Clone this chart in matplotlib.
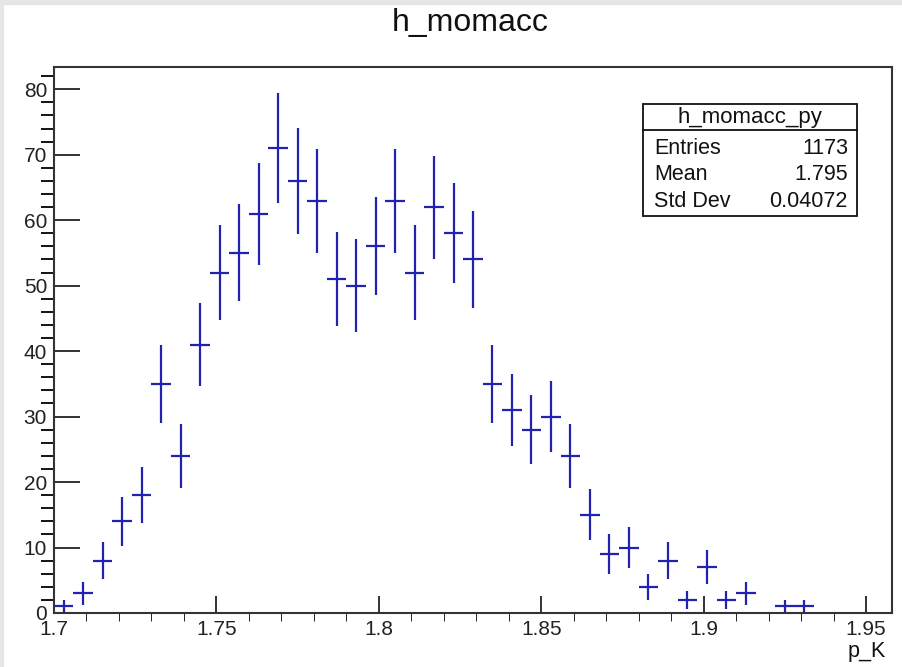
import numpy as np
import matplotlib
matplotlib.use("Agg")
import matplotlib.pyplot as plt
from matplotlib.ticker import MultipleLocator
from matplotlib.patches import Rectangle
from matplotlib.lines import Line2D

plt.rcParams['font.family'] = ['Liberation Sans', 'DejaVu Sans']

# Histogram data
title = "h_momacc"
xlabel = "p_K"
x_min = 1.7
bin_width = 0.006
n_bins = 43
counts = [1, 3, 8, 14, 18, 35, 24, 41, 52, 55, 61, 71, 66, 63, 51, 50, 56, 63,
          52, 62, 58, 54, 35, 31, 28, 30, 24, 15, 9, 10, 4, 8, 2, 7, 2, 3, 0, 1, 1,
          0, 0, 0, 0]
stats_name = "h_momacc_py"
stats_labels = ["Entries", "Mean", "Std Dev"]
stats_values = ["1173", "1.795", "0.04072"]

counts = np.array(counts, dtype=float)
centers = x_min + bin_width * (np.arange(n_bins) + 0.5)
x_max = x_min + bin_width * n_bins
mask = counts > 0

W, H = 902, 667
fig = plt.figure(figsize=(W / 100, H / 100), dpi=100)
fig.patch.set_facecolor('white')

# light gray canvas border (left and top only)
fig.patches.append(Rectangle((0, 0), 3 / W, 1, transform=fig.transFigure, color='#e6e6e6', zorder=0))
fig.patches.append(Rectangle((0, 1 - 4 / H), 1, 4 / H, transform=fig.transFigure, color='#e6e6e6', zorder=0))

left, right, top, bottom = 54, 892, 67, 613
ax = fig.add_axes([left / W, 1 - bottom / H, (right - left) / W, (bottom - top) / H])

ymax = 1.05 * (counts.max() + np.sqrt(counts.max()))
ax.errorbar(centers[mask], counts[mask], xerr=bin_width / 2, yerr=np.sqrt(counts[mask]),
            fmt='none', ecolor='#2222b0', elinewidth=1.6, capsize=0)

ax.set_xlim(x_min, x_max)
ax.set_ylim(0, ymax)

ax.xaxis.set_major_locator(MultipleLocator(0.05))
ax.xaxis.set_minor_locator(MultipleLocator(0.01))
ax.yaxis.set_major_locator(MultipleLocator(10))
ax.yaxis.set_minor_locator(MultipleLocator(2))
ax.set_xticks(np.arange(1.7, 1.951, 0.05))
ax.set_xticklabels(["1.7", "1.75", "1.8", "1.85", "1.9", "1.95"])

ax.tick_params(axis='both', direction='in', colors='#222222', labelsize=15, width=1.3)
ax.tick_params(axis='x', which='major', length=17 * 0.72, pad=5)
ax.tick_params(axis='x', which='minor', length=8 * 0.72)
ax.tick_params(axis='y', which='major', length=26 * 0.72, pad=5)
ax.tick_params(axis='y', which='minor', length=13 * 0.72, width=1.3)
for s in ax.spines.values():
    s.set_color('#333333')
    s.set_linewidth(1.5)

fig.text(0.521, 1 - 23 / H, title, ha='center', va='center', fontsize=23, color='#111111')
fig.text(886 / W, 1 - 651 / H, xlabel, ha='right', va='center', fontsize=15.5, color='#111111')

# stats box
bx0, bx1, by0, by1, bsep = 643, 857, 104, 216, 130
fig.patches.append(Rectangle((bx0 / W, 1 - by1 / H), (bx1 - bx0) / W, (by1 - by0) / H,
                             transform=fig.transFigure, facecolor='white', edgecolor='#111111',
                             linewidth=1.3, zorder=5))
fig.lines.append(Line2D([bx0 / W, bx1 / W], [1 - bsep / H, 1 - bsep / H], transform=fig.transFigure,
                        color='#111111', linewidth=1.3, zorder=6))
fig.text((bx0 + bx1) / 2 / W, 1 - 117 / H, stats_name, ha='center', va='center', fontsize=16,
         color='#111111', zorder=7)
row_y = [148, 174, 201]
for lab, val, y in zip(stats_labels, stats_values, row_y):
    fig.text(654 / W, 1 - y / H, lab, ha='left', va='center', fontsize=15.5, color='#111111', zorder=7)
    fig.text(848 / W, 1 - y / H, val, ha='right', va='center', fontsize=15.5, color='#111111', zorder=7)

fig.savefig("out.png", dpi=100)
